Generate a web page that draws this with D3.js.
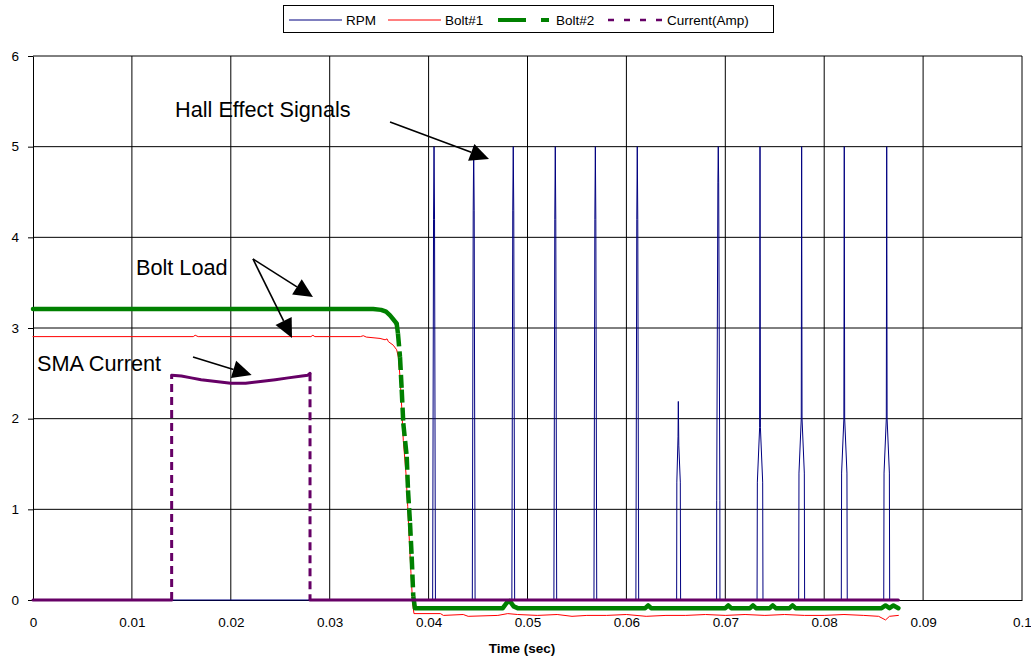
<!DOCTYPE html>
<html>
<head>
<meta charset="utf-8">
<style>
    body { margin: 0; background: #fff; }
    text { font-family: "Liberation Sans", Arial, sans-serif; }
</style>
</head>
<body>
<svg id="chart"></svg>

<script src="https://cdn.jsdelivr.net/npm/d3@7"></script>
<script>
    "use strict"
    const width = 1031;
    const height = 658;

    // axis ticks
    const xTicks = [0, 0.01, 0.02, 0.03, 0.04, 0.05, 0.06, 0.07, 0.08, 0.09, 0.1];
    const xTickLabels = ["0", "0.01", "0.02", "0.03", "0.04", "0.05", "0.06", "0.07", "0.08", "0.09", "0.1"];
    const yTicks = [0, 1, 2, 3, 4, 5, 6];
    const yTickLabels = ["0", "1", "2", "3", "4", "5", "6"];
    const seriesNames = ["RPM", "Bolt#1", "Bolt#2", "Current(Amp)"];

    // [time (sec), value]
    const rpm = [
        [0, 0],
        [0.04041, 0], [0.04050, 4.2], [0.04055, 5], [0.04060, 4.2], [0.04069, 0],
        [0.04442, 0], [0.04451, 4.3], [0.04456, 5], [0.04461, 4.3], [0.04470, 0],
        [0.04842, 0], [0.04851, 4.3], [0.04856, 5], [0.04861, 4.3], [0.04870, 0],
        [0.05267, 0], [0.05276, 4.2], [0.05281, 5], [0.05286, 4.2], [0.05295, 0],
        [0.05672, 0], [0.05681, 4.2], [0.05686, 5], [0.05691, 4.2], [0.05700, 0],
        [0.06096, 0], [0.06105, 4.2], [0.06110, 5], [0.06115, 4.2], [0.06124, 0],
        [0.06508, 0], [0.06510, 1.3], [0.06522, 1.8], [0.06525, 2.19], [0.06530, 1.7], [0.06545, 1.3], [0.06548, 0],
        [0.06912, 0], [0.06913, 1.1], [0.06925, 4.6], [0.06929, 5], [0.06933, 4.6], [0.06945, 1.1], [0.06946, 0],
        [0.07321, 0], [0.07324, 1.3], [0.07347, 1.9], [0.07351, 5], [0.07355, 1.9], [0.07378, 1.3], [0.07381, 0],
        [0.07742, 0], [0.07745, 1.4], [0.07768, 2.0], [0.07772, 5], [0.07776, 2.0], [0.07799, 1.4], [0.07802, 0],
        [0.08173, 0], [0.08176, 1.4], [0.08199, 2.0], [0.08203, 5], [0.08207, 2.0], [0.08230, 1.4], [0.08233, 0],
        [0.08602, 0], [0.08605, 1.4], [0.08628, 2.0], [0.08632, 5], [0.08636, 2.0], [0.08659, 1.4], [0.08662, 0],
        [0.0875, 0]
    ];

    const bolt1 = [
        [0, 2.905], [0.0162, 2.905], [0.0164, 2.92], [0.0167, 2.905], [0.0281, 2.905], [0.0283, 2.92],
        [0.0285, 2.905], [0.0331, 2.905], [0.0334, 2.915], [0.0337, 2.9], [0.03509, 2.885], [0.0356, 2.87],
        [0.0358, 2.88], [0.03593, 2.85], [0.03643, 2.81], [0.03677, 2.76], [0.03694, 2.68], [0.03711, 2.46],
        [0.03728, 2.13], [0.03744, 1.76], [0.03771, 1.40], [0.03789, 1.03], [0.03805, 0.66], [0.03822, 0.29],
        [0.03839, -0.04], [0.03852, -0.15], [0.0412, -0.15], [0.0415, -0.17], [0.0435, -0.16], [0.0440, -0.18],
        [0.0470, -0.17], [0.0480, -0.15], [0.0490, -0.16], [0.0510, -0.17], [0.0530, -0.16], [0.0545, -0.18],
        [0.0560, -0.17], [0.0580, -0.17], [0.0600, -0.16], [0.0620, -0.18], [0.0640, -0.17], [0.0660, -0.17],
        [0.0680, -0.16], [0.0700, -0.17], [0.0720, -0.16], [0.0740, -0.17], [0.0760, -0.16], [0.0780, -0.17],
        [0.0800, -0.17], [0.0820, -0.16], [0.0840, -0.17], [0.0855, -0.18], [0.0862, -0.22], [0.0866, -0.18],
        [0.0875, -0.17]
    ];

    const bolt2 = [
        [0, 3.21], [0.0150, 3.21], [0.0250, 3.21], [0.0344, 3.21], [0.0352, 3.20],
        [0.0357, 3.18], [0.0361, 3.14], [0.03677, 3.05], [0.0369, 2.94], [0.03711, 2.68], [0.03728, 2.32],
        [0.03744, 1.95], [0.03779, 1.58], [0.03792, 1.21], [0.03812, 0.85], [0.03829, 0.48], [0.03845, 0.04],
        [0.03862, -0.09], [0.0475, -0.09], [0.0479, -0.03], [0.0482, -0.01], [0.0486, -0.07], [0.0490, -0.09],
        [0.0619, -0.09], [0.0622, -0.06], [0.0625, -0.09], [0.0700, -0.09], [0.0703, -0.06], [0.0706, -0.09],
        [0.0725, -0.09], [0.0728, -0.06], [0.0731, -0.09], [0.0745, -0.09], [0.0748, -0.06], [0.0751, -0.09],
        [0.0765, -0.09], [0.0768, -0.06], [0.0771, -0.09], [0.0858, -0.09], [0.0862, -0.06], [0.0866, -0.09],
        [0.0870, -0.06], [0.0875, -0.09]
    ];

    const current = [
        [0, 0], [0.01402, 0], [0.01402, 2.48], [0.0150, 2.47], [0.0160, 2.45], [0.0170, 2.43],
        [0.0185, 2.41], [0.0200, 2.39], [0.0215, 2.39], [0.0230, 2.41], [0.0245, 2.43], [0.0258, 2.45],
        [0.0272, 2.47], [0.0278, 2.48], [0.0280, 2.50], [0.02801, 2.50], [0.02801, 0], [0.0875, 0]
    ];

    // text callouts, anchored in data units
    const notes = [
        { text: "Hall Effect Signals", t: 0.01436, v: 5.327 },
        { text: "Bolt Load", t: 0.01041, v: 3.584 },
        { text: "SMA Current", t: 0.0004, v: 2.526 }
    ];
    const arrows = [
        { from: [0.0361, 5.272], to: [0.04611, 4.864] },
        { from: [0.02224, 3.761], to: [0.02831, 3.342] },
        { from: [0.02224, 3.761], to: [0.02619, 2.890] },
        { from: [0.01618, 2.680], to: [0.02211, 2.481] }
    ];

    const svg = d3.select("#chart")
        .attr("width", width)
        .attr("height", height);

    svg.append("rect").attr("width", width).attr("height", height).attr("fill", "#fff");

    const x = d3.scaleLinear().domain([0, 0.1]).range([33, 1022]);
    const y = d3.scaleLinear().domain([0, 6]).range([600, 56]);

    // gridlines
    const grid = svg.append("g");
    grid.selectAll(".vgrid").data(xTicks.slice(1)).join("line")
        .attr("x1", d => x(d)).attr("x2", d => x(d))
        .attr("y1", y(0)).attr("y2", y(6))
        .attr("stroke", "#000").attr("stroke-width", 1);
    grid.selectAll(".hgrid").data(yTicks.slice(1)).join("line")
        .attr("x1", x(0)).attr("x2", x(0.1))
        .attr("y1", d => y(d)).attr("y2", d => y(d))
        .attr("stroke", "#000").attr("stroke-width", 1);

    // axes
    const yAxis = svg.append("g")
        .attr("transform", `translate(${x(0)},0)`)
        .call(d3.axisLeft(y).tickValues(yTicks).tickSize(5).tickSizeOuter(0).tickPadding(9)
            .tickFormat((d, i) => yTickLabels[i]));
    const xAxis = svg.append("g")
        .attr("transform", `translate(0,${y(0)})`)
        .call(d3.axisBottom(x).tickValues(xTicks).tickSize(0).tickSizeOuter(0).tickPadding(17)
            .tickFormat((d, i) => xTickLabels[i]));
    [xAxis, yAxis].forEach(a => {
        a.selectAll("path, line").attr("stroke", "#000");
        a.selectAll("text").attr("font-size", 13.5).attr("fill", "#000")
            .attr("font-family", "'Liberation Sans', Arial, sans-serif");
    });

    svg.append("text")
        .attr("x", 522).attr("y", 653)
        .attr("text-anchor", "middle")
        .attr("font-size", 13.5).attr("font-weight", "bold")
        .text("Time (sec)");

    // Excel restarts the dash pattern on each segment, so dense flat runs look solid
    // and only the long steep jumps show the dashes.
    const plot = svg.append("g");
    const lineGen = d3.line();

    function drawSeries(data, color, lw, dash) {
        const pts = data.map(d => [x(d[0]), y(d[1])]);
        const g = plot.append("g");
        const flush = run => {
            if (run.length < 2) return;
            g.append("path").attr("d", lineGen(run))
                .attr("fill", "none").attr("stroke", color).attr("stroke-width", lw)
                .attr("stroke-linejoin", "round").attr("stroke-linecap", "round");
        };
        let run = [pts[0]];
        for (let i = 1; i < pts.length; i++) {
            const a = pts[i - 1], b = pts[i];
            const steep = dash && Math.abs(b[1] - a[1]) > 2 * Math.abs(b[0] - a[0]);
            if (steep) {
                flush(run);
                g.append("line")
                    .attr("x1", a[0]).attr("y1", a[1]).attr("x2", b[0]).attr("y2", b[1])
                    .attr("stroke", color).attr("stroke-width", lw)
                    .attr("stroke-dasharray", dash).attr("stroke-linecap", "butt");
                run = [b];
            } else {
                run.push(b);
            }
        }
        flush(run);
    }

    drawSeries(rpm, "#000080", 1, null);
    drawSeries(bolt1, "#ff0000", 1, null);
    drawSeries(bolt2, "#008000", 4.5, "13,5");
    drawSeries(current, "#660066", 3, "8,5");

    // callouts
    svg.selectAll(".note").data(notes).join("text")
        .attr("x", d => x(d.t)).attr("y", d => y(d.v))
        .attr("font-size", 21.7).attr("fill", "#000")
        .text(d => d.text);

    const headLen = 19, headHalf = 9;
    arrows.forEach(a => {
        const x1 = x(a.from[0]), y1 = y(a.from[1]);
        const x2 = x(a.to[0]), y2 = y(a.to[1]);
        const len = Math.hypot(x2 - x1, y2 - y1);
        const ux = (x2 - x1) / len, uy = (y2 - y1) / len;
        const bx = x2 - ux * headLen, by = y2 - uy * headLen;
        svg.append("line")
            .attr("x1", x1).attr("y1", y1).attr("x2", bx).attr("y2", by)
            .attr("stroke", "#000").attr("stroke-width", 1.6);
        svg.append("polygon")
            .attr("points", [[x2, y2], [bx - uy * headHalf, by + ux * headHalf], [bx + uy * headHalf, by - ux * headHalf]]
                .map(p => p.join(",")).join(" "))
            .attr("fill", "#000");
    });

    // legend
    const legend = svg.append("g");
    legend.append("rect")
        .attr("x", 283.5).attr("y", 5.5).attr("width", 490).attr("height", 27)
        .attr("fill", "#fff").attr("stroke", "#000").attr("stroke-width", 1);
    const legendItems = [
        { name: seriesNames[0], x0: 289, x1: 342, tx: 346, color: "#000080", lw: 1, dash: null },
        { name: seriesNames[1], x0: 388, x1: 441, tx: 445, color: "#ff0000", lw: 1, dash: null },
        { name: seriesNames[2], x0: 498, x1: 549, tx: 556, color: "#008000", lw: 4, dash: "28,15" },
        { name: seriesNames[3], x0: 608, x1: 662, tx: 667, color: "#660066", lw: 2.5, dash: "6,10" }
    ];
    legendItems.forEach(d => {
        legend.append("line")
            .attr("x1", d.x0).attr("x2", d.x1).attr("y1", 20).attr("y2", 20)
            .attr("stroke", d.color).attr("stroke-width", d.lw)
            .attr("stroke-dasharray", d.dash);
        legend.append("text")
            .attr("x", d.tx).attr("y", 25)
            .attr("font-size", 13.5).attr("fill", "#000")
            .text(d.name);
    });
</script>
</body>
</html>
